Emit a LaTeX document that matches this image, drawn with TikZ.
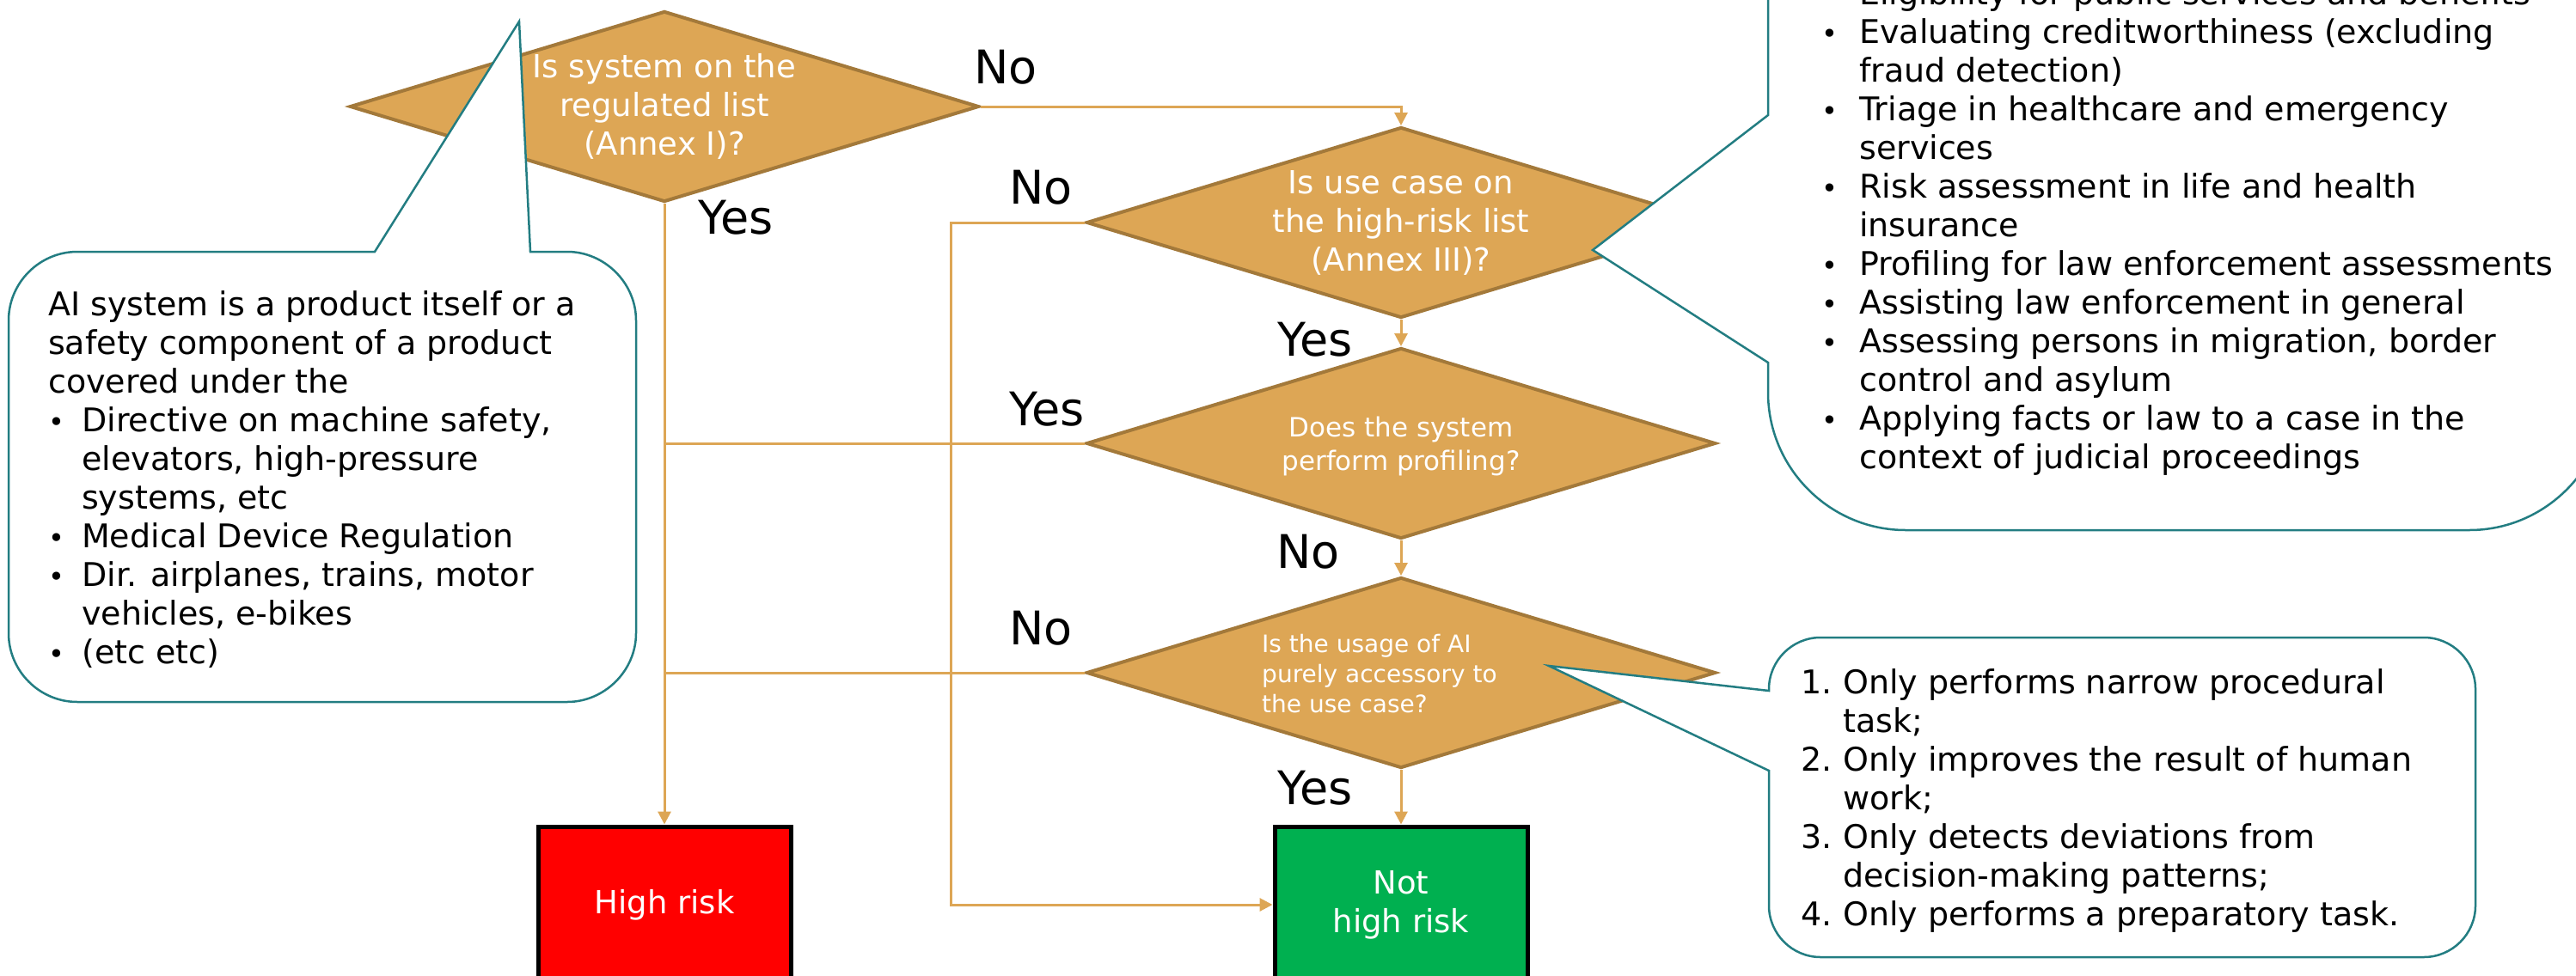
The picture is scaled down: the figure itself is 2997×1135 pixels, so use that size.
\documentclass[tikz,border=0pt]{standalone}
\usepackage{fontspec}
\setmainfont{DejaVu Sans}
\usetikzlibrary{arrows.meta,shapes.geometric}

\definecolor{diafill}{RGB}{221,166,85}
\definecolor{diaedge}{RGB}{163,121,58}
\definecolor{flowline}{RGB}{221,166,85}
\definecolor{calloutline}{RGB}{35,125,130}
\definecolor{riskred}{RGB}{255,0,0}
\definecolor{safegreen}{RGB}{0,176,80}

\newcommand{\bul}[1][39pt]{\makebox[#1][l]{\fontsize{32}{45}\selectfont\textbullet}}
\newcommand{\cont}[1][39pt]{\hspace*{#1}}

\begin{document}
\begin{tikzpicture}[x=1pt, y=-1pt, >={Triangle[length=15pt, width=15pt]}]
\tikzset{
  dia/.style={diamond, draw=diaedge, fill=diafill, line width=4pt, minimum width=732pt, minimum height=222pt, inner sep=0pt},
  diatext/.style={text=white, align=center, inner sep=0pt, font=\fontsize{37}{45}\selectfont},
  diasmall/.style={diatext, font=\fontsize{31}{39}\selectfont},
  flow/.style={draw=flowline, line width=3pt},
  answer/.style={inner sep=0pt, font=\fontsize{54}{60}\selectfont},
  result/.style={draw=black, line width=5pt, minimum width=294pt, minimum height=182pt, text=white, align=center, font=\fontsize{37}{45}\selectfont},
  callout/.style={draw=calloutline, fill=white, line width=2.5pt},
  notetext/.style={anchor=north west, align=left, inner sep=0pt, font=\fontsize{38}{45}\selectfont}
}
\useasboundingbox (0,0) rectangle (2997,1135);

\node[dia] (d1) at (773,124) {};
\node[dia] (d2) at (1630,259) {};
\node[dia] (d3) at (1630,516) {};
\node[dia] (d4) at (1630,783) {};
\node[diatext] (q1) at (d1) {Is system on the\\regulated list\\(Annex I)?};
\node[diatext] (q2) at (d2) {Is use case on\\the high-risk list\\(Annex III)?};
\node[diasmall] (q3) at (1630,519) {Does the system\\perform profiling?};
\node[diasmall, font=\fontsize{28}{35}\selectfont, align=left, anchor=west] (q4) at (1468,784) {Is the usage of AI\\purely accessory to\\the use case?};

\node[result, fill=riskred] (hr) at (773,1053) {High risk};
\node[result, fill=safegreen] (nhr) at (1630,1053) {Not\\high risk};

\draw[flow,->] (d1.east) -| (d2.north);
\draw[flow,->] (d1.south) -- (hr.north);
\draw[flow,->] (d2.west) -- ++(-156,0) |- (nhr.west);
\draw[flow,->] (d2.south) -- (d3.north);
\draw[flow] (d3.west) -- (d3.west -| hr.north);
\draw[flow,->] (d3.south) -- (d4.north);
\draw[flow] (d4.west) -- (d4.west -| hr.north);
\draw[flow,->] (d4.south) -- (nhr.north);

\node[answer] (n1) at (1170,78) {No};
\node[answer] (y1) at (856,253) {Yes};
\node[answer] (n2) at (1211,218) {No};
\node[answer] (y2) at (1530,395) {Yes};
\node[answer] (y3) at (1218,476) {Yes};
\node[answer] (n3) at (1522,642) {No};
\node[answer] (n4) at (1211,731) {No};
\node[answer] (y4) at (1530,917) {Yes};

\draw[callout] (436,293) -- (604,25) -- (617,293) -- (660,293)
  .. controls (703,293) and (740,329) .. (740,373) -- (740,737)
  .. controls (740,781) and (703,817) .. (660,817) -- (90,817)
  .. controls (46,817) and (10,781) .. (10,737) -- (10,373)
  .. controls (10,329) and (46,293) .. (90,293) -- cycle;
\draw[callout] (2057,134) -- (1853,291) -- (2057,422) -- (2057,457)
  .. controls (2057,545) and (2129,617) .. (2217,617) -- (2873,617)
  .. controls (2961,617) and (3033,545) .. (3033,457) -- (3033,-300) -- (2057,-300) -- cycle;
\draw[callout] (2058,804) -- (1802,775) -- (2058,897) -- (2058,1054)
  .. controls (2058,1087) and (2085,1114) .. (2118,1114) -- (2820,1114)
  .. controls (2853,1114) and (2880,1087) .. (2880,1054) -- (2880,802)
  .. controls (2880,769) and (2853,742) .. (2820,742) -- (2118,742)
  .. controls (2085,742) and (2058,769) .. (2058,802) -- cycle;

\node[notetext] (lnote) at (56,338) {AI system is a product itself or a\\
safety component of a product\\
covered under the\\
\bul Directive on machine safety,\\
\cont elevators, high-pressure\\
\cont systems, etc\\
\bul Medical Device Regulation\\
\bul Dir. airplanes, trains, motor\\
\cont vehicles, e-bikes\\
\bul (etc etc)};
\node[notetext] (rnote) at (2119,-24) {\bul[44pt]Eligibility for public services and benefits\\
\bul[44pt]Evaluating creditworthiness (excluding\\
\cont[44pt]fraud detection)\\
\bul[44pt]Triage in healthcare and emergency\\
\cont[44pt]services\\
\bul[44pt]Risk assessment in life and health\\
\cont[44pt]insurance\\
\bul[44pt]Profiling for law enforcement assessments\\
\bul[44pt]Assisting law enforcement in general\\
\bul[44pt]Assessing persons in migration, border\\
\cont[44pt]control and asylum\\
\bul[44pt]Applying facts or law to a case in the\\
\cont[44pt]context of judicial proceedings};
\node[notetext] (bnote) at (2095,778) {\makebox[49pt][l]{1.}Only performs narrow procedural\\
\cont[49pt]task;\\
\makebox[49pt][l]{2.}Only improves the result of human\\
\cont[49pt]work;\\
\makebox[49pt][l]{3.}Only detects deviations from\\
\cont[49pt]decision-making patterns;\\
\makebox[49pt][l]{4.}Only performs a preparatory task.};
\end{tikzpicture}
\end{document}
